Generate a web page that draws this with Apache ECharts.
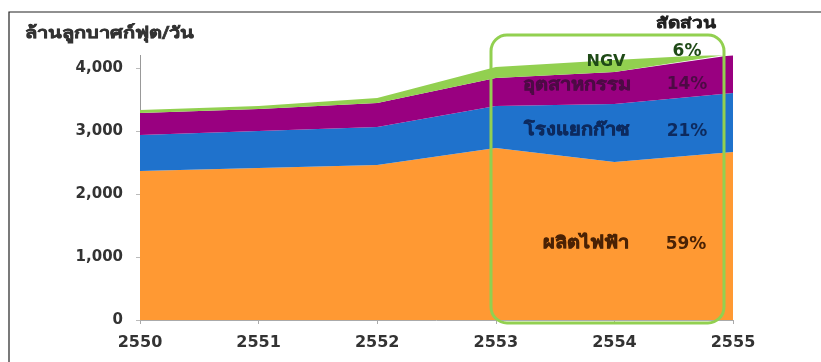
<!DOCTYPE html>
<html><head><meta charset="utf-8">
<script src="https://cdn.jsdelivr.net/npm/echarts@6/dist/echarts.min.js"></script>
<style>html,body{margin:0;padding:0;background:#fff}#c{width:821px;height:362px}</style>
</head><body><div id="c"></div>
<script>
const years = ['2550','2551','2552','2553','2554','2555'];
const power = [2365, 2413, 2460, 2730, 2508, 2667];
const gasPlant = [572, 587, 603, 667, 922, 936];
const industry = [349, 349, 381, 444, 507, 603];
const ngv = [47, 48, 80, 175, 190, 20];
const yTicks = [0, 1000, 2000, 3000, 4000];
const unitTitle = 'ล้านลูกบาศก์ฟุต/วัน';
const shareTitle = 'สัดส่วน';
const labels = [
  {name: 'NGV', pct: '6%', color: '#1f4a17'},
  {name: 'อุตสาหกรรม', pct: '14%', color: '#4d0a45'},
  {name: 'โรงแยกก๊าซ', pct: '21%', color: '#0d2a5e'},
  {name: 'ผลิตไฟฟ้า', pct: '59%', color: '#4a2205'}
];
const FONT = "Tahoma, 'DejaVu Sans', 'Noto Sans', sans-serif";

const chart = echarts.init(document.getElementById('c'));
function area(name, data, color) {
  return {name, type: 'line', stack: 'total', data, symbol: 'none', smooth: false,
    lineStyle: {width: 0}, areaStyle: {color, opacity: 1}, itemStyle: {color}};
}
const labelPos = [
  {nx: 606, px: 687, y: 62, py: 52, ns: 16, sy: 1},
  {nx: 577, px: 687, y: 86, py: 85, ns: 20, sy: 0.82},
  {nx: 577, px: 687, y: 131, py: 132, ns: 20, sy: 0.82},
  {nx: 586, px: 686, y: 244, py: 245, ns: 20, sy: 0.82}
];
const graphics = [
  {type: 'rect', shape: {x: 9, y: 12, width: 900, height: 400}, style: {fill: 'none', stroke: '#222', lineWidth: 1.2}, z: 100},
  {type: 'rect', shape: {x: 491, y: 35, width: 233, height: 288, r: 16}, style: {fill: 'none', stroke: '#92D050', lineWidth: 3}, z: 100},
  {type: 'text', x: 686, y: 24, scaleY: 0.78, style: {text: shareTitle, font: 'bold 19px ' + FONT, fill: '#222', stroke: '#222', lineWidth: 0.7, align: 'center', verticalAlign: 'middle'}, z: 101},
  {type: 'text', x: 25, y: 34, scaleY: 0.8, style: {text: unitTitle, font: 'bold 20px ' + FONT, fill: '#333', stroke: '#333', lineWidth: 0.8, align: 'left', verticalAlign: 'middle'}, z: 101}
];
labels.forEach((l, i) => {
  const p = labelPos[i];
  graphics.push({type: 'text', x: p.nx, y: p.y, scaleY: p.sy, style: {text: l.name, font: 'bold ' + p.ns + 'px ' + FONT, fill: l.color, stroke: l.color, lineWidth: i === 0 ? 0 : 0.8, align: 'center', verticalAlign: 'middle'}, z: 101});
  graphics.push({type: 'text', x: p.px, y: p.py, style: {text: l.pct, font: 'bold 17px ' + FONT, fill: l.color, align: 'center', verticalAlign: 'middle'}, z: 101});
});

chart.setOption({
  animation: false,
  grid: {left: 140, right: 88, top: 55.4, bottom: 42},
  xAxis: {type: 'category', data: years, boundaryGap: false,
    axisLine: {lineStyle: {color: '#aaa'}}, axisTick: {show: true, alignWithLabel: true, length: 4, lineStyle: {color: '#aaa'}},
    axisLabel: {fontFamily: FONT, fontSize: 16, fontWeight: 'bold', color: '#333', margin: 15}},
  yAxis: {type: 'value', min: 0, max: 4200, interval: 1000,
    splitLine: {show: false},
    axisLine: {show: true, lineStyle: {color: '#999'}}, axisTick: {show: true, length: 4, lineStyle: {color: '#bbb'}},
    axisLabel: {fontFamily: FONT, fontSize: 15, fontWeight: 'bold', color: '#333', margin: 17, showMaxLabel: false,
      formatter: v => yTicks.includes(v) ? v.toLocaleString('en-US') : ''}},
  series: [
    area('ผลิตไฟฟ้า', power, '#FF9933'),
    area('โรงแยกก๊าซ', gasPlant, '#1F72CC'),
    area('อุตสาหกรรม', industry, '#990080'),
    area('NGV', ngv, '#92D050')
  ],
  graphic: graphics
});
</script></body></html>
